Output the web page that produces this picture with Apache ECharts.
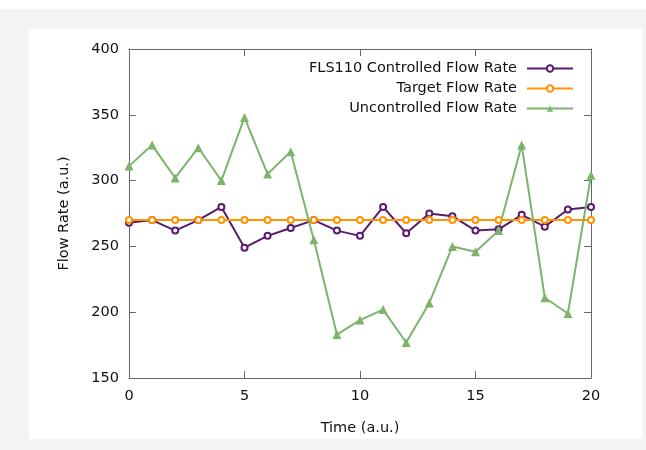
<!DOCTYPE html>
<html>
<head>
<meta charset="utf-8">
<script src="https://cdn.jsdelivr.net/npm/echarts@6/dist/echarts.min.js"></script>
<style>
html,body{margin:0;padding:0;background:#fff;}
#frame{position:absolute;left:0;top:9px;width:646px;height:441px;background:#f2f3f5;}
#inner{position:absolute;left:29px;top:29px;width:613px;height:410px;background:#fff;}
#chart{position:absolute;left:0;top:0;width:646px;height:450px;}
</style>
</head>
<body>
<div id="frame"></div>
<div id="inner"></div>
<div id="chart"></div>
<script>
const seriesNames = ['FLS110 Controlled Flow Rate', 'Target Flow Rate', 'Uncontrolled Flow Rate'];
const time = [0,1,2,3,4,5,6,7,8,9,10,11,12,13,14,15,16,17,18,19,20];
const controlled = [268,270,262,270,280,249,258,264,270,262,258,280,260,275,273,262,263,274,265,278,280];
const target = [270,270,270,270,270,270,270,270,270,270,270,270,270,270,270,270,270,270,270,270,270];
const uncontrolled = [311,327,302,325,300,348,305,322,255,183,194,202,177,207,250,246,262,327,211,199,304];
const xTicks = [0,5,10,15,20];
const yTicks = [150,200,250,300,350,400];

const colors = ['#5a1a6e', '#ff9400', '#7db46c'];
const font = 'DejaVu Sans';

function pairs(ys){ return time.map((t,i)=>[t, ys[i]]); }

const chart = echarts.init(document.getElementById('chart'), null, {renderer:'canvas'});
function axisLine(){ return {show:true, onZero:false, lineStyle:{color:'#666', width:1}}; }
function tick(){ return {show:true, inside:true, length:7, lineStyle:{color:'#666', width:1}}; }
const labelStyle = {color:'#111', fontFamily:font, fontSize:14.5};
chart.setOption({
  backgroundColor:'transparent',
  animation:false,
  grid:{left:129, right:55, top:49, bottom:72, containLabel:false},
  legend:{
    orient:'vertical', align:'right', right:67, top:56,
    itemWidth:46, itemHeight:8, itemGap:5,
    textStyle:{fontFamily:font, fontSize:14.5, color:'#111', padding:[0,5,0,0]},
    data:seriesNames
  },
  xAxis:[{
    type:'value', position:'bottom', min:xTicks[0], max:xTicks[xTicks.length-1], interval:5,
    name:'Time (a.u.)', nameLocation:'middle', nameGap:43,
    nameTextStyle:{fontFamily:font, fontSize:14.5, color:'#111'},
    axisLine:axisLine(), axisTick:tick(),
    axisLabel:Object.assign({margin:11}, labelStyle),
    splitLine:{show:false}
  },{
    type:'value', position:'top', min:xTicks[0], max:xTicks[xTicks.length-1], interval:5,
    axisLine:axisLine(), axisTick:tick(),
    axisLabel:{show:false}, splitLine:{show:false}
  }],
  yAxis:[{
    type:'value', position:'left', min:yTicks[0], max:yTicks[yTicks.length-1], interval:50,
    name:'Flow Rate (a.u.)', nameLocation:'middle', nameGap:57,
    nameTextStyle:{fontFamily:font, fontSize:14.5, color:'#111'},
    axisLine:axisLine(), axisTick:tick(),
    axisLabel:Object.assign({margin:10}, labelStyle),
    splitLine:{show:false}
  },{
    type:'value', position:'right', min:yTicks[0], max:yTicks[yTicks.length-1], interval:50,
    axisLine:axisLine(), axisTick:tick(),
    axisLabel:{show:false}, splitLine:{show:false}
  }],
  series:[{
    name:seriesNames[0], type:'line', data:pairs(controlled),
    symbol:'emptyCircle', symbolSize:6, color:colors[0],
    lineStyle:{width:2, color:colors[0]},
    itemStyle:{color:colors[0], borderWidth:1.6}
  },{
    name:seriesNames[1], type:'line', data:pairs(target),
    symbol:'emptyCircle', symbolSize:6, color:colors[1],
    lineStyle:{width:2, color:colors[1]},
    itemStyle:{color:colors[1], borderWidth:1.6}
  },{
    name:seriesNames[2], type:'line', data:pairs(uncontrolled),
    symbol:'triangle', symbolSize:9, color:colors[2],
    lineStyle:{width:2, color:colors[2]},
    itemStyle:{color:colors[2]}
  }]
});
</script>
</body>
</html>
